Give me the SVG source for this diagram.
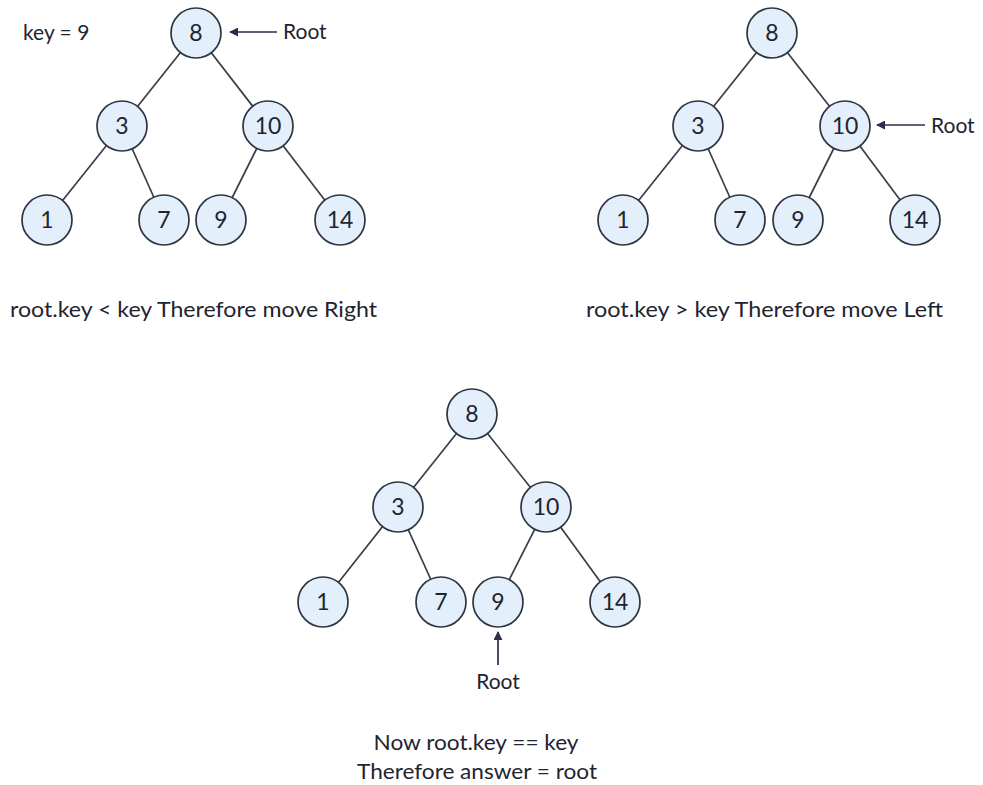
<svg xmlns="http://www.w3.org/2000/svg" width="983" height="785" viewBox="0 0 983 785">
  <style>
    .edge { stroke: #3a3d46; stroke-width: 1.7; fill: none; }
    .node circle { fill: #e3f0fb; stroke: #2f3440; stroke-width: 1.7; }
    .node text { font-family: Lato, "Liberation Sans", sans-serif; font-size: 23px; fill: #1f2430; text-anchor: middle; }
    .label { font-family: Lato, "Liberation Sans", sans-serif; font-size: 21px; fill: #1f2430; }
    .ptr { stroke: #2d2b4a; stroke-width: 1.7; fill: none; marker-end: url(#arrow); }
  </style>
  <defs>
    <marker id="arrow" viewBox="0 0 10 10" refX="9" refY="5" markerWidth="9" markerHeight="9" markerUnits="userSpaceOnUse" orient="auto">
      <path d="M0,0 L10,5 L0,10 z" fill="#2d2b4a"/>
    </marker>
  </defs>
  <rect width="983" height="785" fill="#ffffff"/>

  <!-- Tree 1 -->
  <g id="tree1">
    <g id="tree1-edges">
      <line class="edge" x1="196" y1="33" x2="122" y2="126"/>
      <line class="edge" x1="196" y1="33" x2="268" y2="126"/>
      <line class="edge" x1="122" y1="126" x2="47" y2="220"/>
      <line class="edge" x1="122" y1="126" x2="164" y2="220"/>
      <line class="edge" x1="268" y1="126" x2="221" y2="220"/>
      <line class="edge" x1="268" y1="126" x2="340" y2="220"/>
      <line class="ptr" x1="277" y1="32" x2="230" y2="32"/>
    </g>
    <g id="t1-n8" class="node"><circle cx="196" cy="33" r="25"/><text x="196" y="41">8</text></g>
    <g id="t1-n3" class="node"><circle cx="122" cy="126" r="25"/><text x="122" y="134">3</text></g>
    <g id="t1-n10" class="node"><circle cx="268" cy="126" r="25"/><text x="268" y="134">10</text></g>
    <g id="t1-n1" class="node"><circle cx="47" cy="220" r="25"/><text x="47" y="228">1</text></g>
    <g id="t1-n7" class="node"><circle cx="164" cy="220" r="25"/><text x="164" y="228">7</text></g>
    <g id="t1-n9" class="node"><circle cx="221" cy="220" r="25"/><text x="221" y="228">9</text></g>
    <g id="t1-n14" class="node"><circle cx="340" cy="220" r="25"/><text x="340" y="228">14</text></g>
    <text class="label" x="23" y="40">key = 9</text>
    <text class="label" x="283" y="39">Root</text>
    <text class="label" x="10" y="317" textLength="367" lengthAdjust="spacingAndGlyphs">root.key &lt; key Therefore move Right</text>
  </g>

  <!-- Tree 2 -->
  <g id="tree2">
    <g id="tree2-edges">
      <line class="edge" x1="772" y1="33" x2="698" y2="126"/>
      <line class="edge" x1="772" y1="33" x2="845" y2="126"/>
      <line class="edge" x1="698" y1="126" x2="623" y2="220"/>
      <line class="edge" x1="698" y1="126" x2="740" y2="220"/>
      <line class="edge" x1="845" y1="126" x2="798" y2="220"/>
      <line class="edge" x1="845" y1="126" x2="915" y2="220"/>
      <line class="ptr" x1="925" y1="125" x2="877" y2="125"/>
    </g>
    <g id="t2-n8" class="node"><circle cx="772" cy="33" r="25"/><text x="772" y="41">8</text></g>
    <g id="t2-n3" class="node"><circle cx="698" cy="126" r="25"/><text x="698" y="134">3</text></g>
    <g id="t2-n10" class="node"><circle cx="845" cy="126" r="25"/><text x="845" y="134">10</text></g>
    <g id="t2-n1" class="node"><circle cx="623" cy="220" r="25"/><text x="623" y="228">1</text></g>
    <g id="t2-n7" class="node"><circle cx="740" cy="220" r="25"/><text x="740" y="228">7</text></g>
    <g id="t2-n9" class="node"><circle cx="798" cy="220" r="25"/><text x="798" y="228">9</text></g>
    <g id="t2-n14" class="node"><circle cx="915" cy="220" r="25"/><text x="915" y="228">14</text></g>
    <text class="label" x="931" y="133">Root</text>
    <text class="label" x="586" y="317" textLength="357" lengthAdjust="spacingAndGlyphs">root.key &gt; key Therefore move Left</text>
  </g>

  <!-- Tree 3 -->
  <g id="tree3">
    <g id="tree3-edges">
      <line class="edge" x1="472" y1="414" x2="398" y2="507"/>
      <line class="edge" x1="472" y1="414" x2="546" y2="507"/>
      <line class="edge" x1="398" y1="507" x2="323" y2="602"/>
      <line class="edge" x1="398" y1="507" x2="441" y2="602"/>
      <line class="edge" x1="546" y1="507" x2="498" y2="602"/>
      <line class="edge" x1="546" y1="507" x2="615" y2="602"/>
      <line class="ptr" x1="498" y1="665" x2="498" y2="632"/>
    </g>
    <g id="t3-n8" class="node"><circle cx="472" cy="414" r="25"/><text x="472" y="422">8</text></g>
    <g id="t3-n3" class="node"><circle cx="398" cy="507" r="25"/><text x="398" y="515">3</text></g>
    <g id="t3-n10" class="node"><circle cx="546" cy="507" r="25"/><text x="546" y="515">10</text></g>
    <g id="t3-n1" class="node"><circle cx="323" cy="602" r="25"/><text x="323" y="610">1</text></g>
    <g id="t3-n7" class="node"><circle cx="441" cy="602" r="25"/><text x="441" y="610">7</text></g>
    <g id="t3-n9" class="node"><circle cx="498" cy="602" r="25"/><text x="498" y="610">9</text></g>
    <g id="t3-n14" class="node"><circle cx="615" cy="602" r="25"/><text x="615" y="610">14</text></g>
    <text class="label" x="498" y="689" text-anchor="middle">Root</text>
    <text class="label" x="476" y="750" text-anchor="middle" textLength="205" lengthAdjust="spacingAndGlyphs">Now root.key == key</text>
    <text class="label" x="477" y="779" text-anchor="middle" textLength="240" lengthAdjust="spacingAndGlyphs">Therefore answer = root</text>
  </g>
</svg>
